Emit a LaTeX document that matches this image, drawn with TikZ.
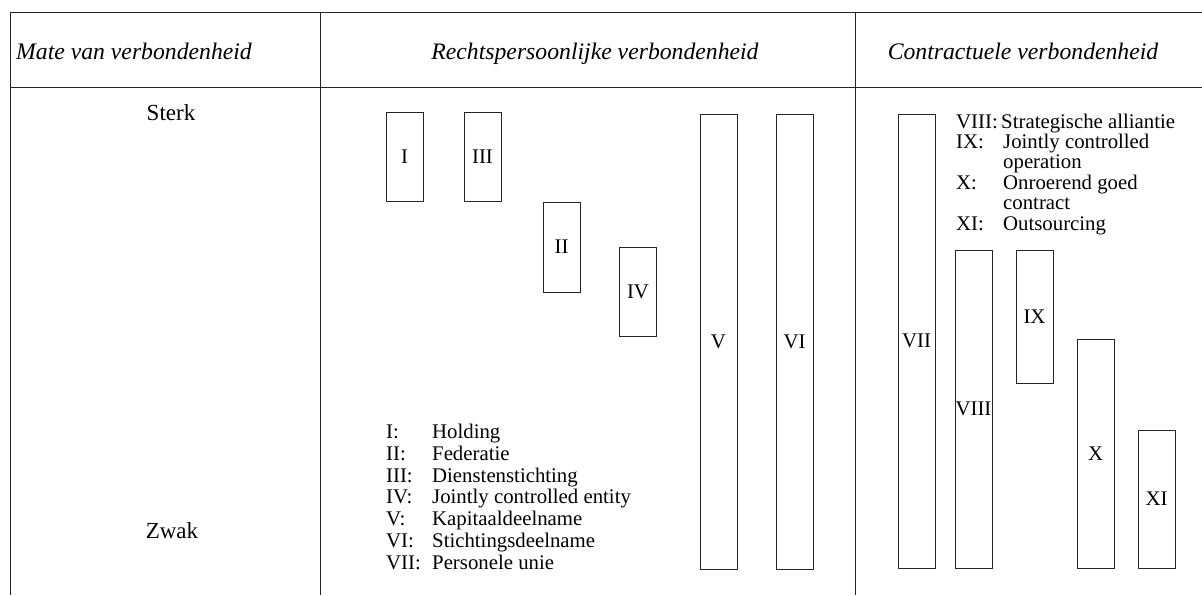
\documentclass[tikz,border=0pt]{standalone}
\usepackage{fontspec}
\setmainfont{Liberation Serif}
\begin{document}
\begin{tikzpicture}[x=1pt,y=-1pt,
  rule/.style={line width=0.9pt,draw=black!85},
  bar/.style={draw=black!85,line width=0.9pt,minimum width=37pt,inner sep=0pt,
    font=\fontsize{20.8}{22}\selectfont},
  head/.style={font=\fontsize{23.7}{25}\selectfont\itshape,inner sep=0pt},
  txt/.style={font=\fontsize{23}{25}\selectfont,inner sep=0pt},
  legend/.style={font=\fontsize{20.8}{21.7}\selectfont,inner sep=0pt,align=left}]
\useasboundingbox (0,0) rectangle (1202,595);
% table rules
\draw[rule] (10,12) -- (1202,12);
\draw[rule] (10,87) -- (1202,87);
\draw[rule] (10,12) -- (10,595);
\draw[rule] (320,12) -- (320,595);
\draw[rule] (855,12) -- (855,595);
% headers
\node[head,anchor=base west] (h1) at (16,59) {Mate van verbondenheid};
\node[head,anchor=base] (h2) at (595,59) {Rechtspersoonlijke verbondenheid};
\node[head,anchor=base] (h3) at (1023,59) {Contractuele verbondenheid};
% strong / weak
\node[txt,anchor=base] (sterk) at (171,120) {Sterk};
\node[txt,anchor=base] (zwak) at (172,538) {Zwak};
% bars
\node[bar,minimum height=89pt] (b1) at (404.5,156.5) {I};
\node[bar,minimum height=89pt] (b3) at (482.5,156.5) {III};
\node[bar,minimum height=90pt] (b2) at (561.5,247) {II};
\node[bar,minimum height=89pt] (b4) at (638,291.5) {IV};
\node[bar,minimum height=455pt] (b5) at (718.5,341.5) {V};
\node[bar,minimum height=455pt] (b6) at (794.5,341.5) {VI};
\node[bar,minimum height=454pt] (b7) at (916.5,341) {VII};
\node[bar,minimum height=318pt] (b8) at (973.5,409) {VIII};
\node[bar,minimum height=133pt] (b9) at (1034.5,316.5) {IX};
\node[bar,minimum height=229pt] (b10) at (1095.5,453.5) {X};
\node[bar,minimum height=138pt] (b11) at (1156.5,499) {XI};
% legends (anchor base = baseline of last line)
\node[legend,anchor=base west] (legL) at (386,569) {%
  \makebox[46pt][l]{I:}Holding\\
  \makebox[46pt][l]{II:}Federatie\\
  \makebox[46pt][l]{III:}Dienstenstichting\\
  \makebox[46pt][l]{IV:}Jointly controlled entity\\
  \makebox[46pt][l]{V:}Kapitaaldeelname\\
  \makebox[46pt][l]{VI:}Stichtingsdeelname\\
  \makebox[46pt][l]{VII:}Personele unie};
\node[legend,anchor=base west,font=\fontsize{20.8}{20.4}\selectfont] (legR) at (956,230) {%
  VIII:\,Strategische alliantie\\
  \makebox[47pt][l]{IX:}Jointly controlled\\
  \makebox[47pt][l]{}operation\\
  \makebox[47pt][l]{X:}Onroerend goed\\
  \makebox[47pt][l]{}contract\\
  \makebox[47pt][l]{XI:}Outsourcing};
\end{tikzpicture}
\end{document}
